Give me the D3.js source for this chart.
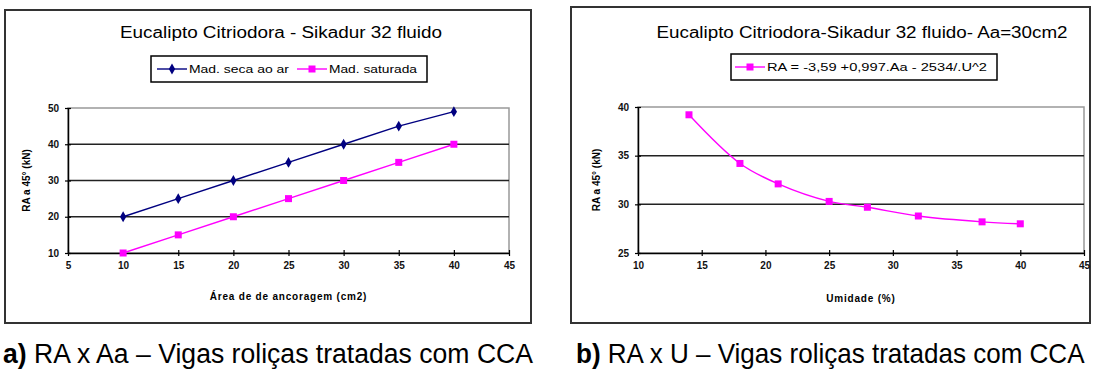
<!DOCTYPE html>
<html>
<head>
<meta charset="utf-8">
<script src="https://cdn.jsdelivr.net/npm/d3@7"></script>
<style>
  body { margin: 0; background: #fff; }
  svg { display: block; font-family: "Liberation Sans", Arial, sans-serif; }
</style>
</head>
<body>
<svg id="chart" width="1093" height="374"></svg>
<script>
// panel a) RA x Aa
const areaAncoragem = [10, 15, 20, 25, 30, 35, 40];
const raSecaAoAr = [20, 25, 30, 35, 40, 45, 49];
const raSaturada = [10, 15, 20, 25, 30, 35, 40];
const xTicksA = [5, 10, 15, 20, 25, 30, 35, 40, 45];
const yTicksA = [10, 20, 30, 40, 50];

// panel b) RA x U
const umidade = [14, 18, 21, 25, 28, 32, 37, 40];
const raUmidade = [39.2, 34.2, 32.1, 30.3, 29.7, 28.8, 28.2, 28.0];
const xTicksB = [10, 15, 20, 25, 30, 35, 40, 45];
const yTicksB = [25, 30, 35, 40];

const titles = ['Eucalipto Citriodora -  Sikadur 32 fluido', 'Eucalipto Citriodora-Sikadur 32 fluido- Aa=30cm2'];
const legendA = ['Mad. seca ao ar', 'Mad. saturada'];
const legendB = ['RA = -3,59 +0,997.Aa - 2534/.U^2'];
const yLabel = 'RA a 45° (kN)';
const xLabels = ['Área de de ancoragem (cm2)', 'Umidade (%)'];
const captions = [
  {tag: 'a)', text: ' RA x Aa – Vigas roliças tratadas com CCA'},
  {tag: 'b)', text: ' RA x U – Vigas roliças tratadas com CCA'}
];

const NAVY = '#000080', MAGENTA = '#ff00ff';
const svg = d3.select('#chart');

function marker(g, type, x, y, color) {
  if (type === 'diamond') {
    g.append('path')
      .attr('d', d3.symbol().type(d3.symbolDiamond).size(34)())
      .attr('transform', `translate(${x},${y})`)
      .attr('fill', color);
  } else {
    g.append('rect')
      .attr('x', x - 3.5).attr('y', y - 3.5)
      .attr('width', 7).attr('height', 7)
      .attr('fill', color);
  }
}

function drawPanel(p) {
  const g = svg.append('g');

  // outer frame
  g.append('rect')
    .attr('x', p.box[0]).attr('y', p.box[1])
    .attr('width', p.box[2] - p.box[0]).attr('height', p.box[3] - p.box[1])
    .attr('fill', '#fff').attr('stroke', '#333').attr('stroke-width', 2);

  const x = d3.scaleLinear().domain(p.xDomain).range([p.plot[0], p.plot[2]]);
  const y = d3.scaleLinear().domain(p.yDomain).range([p.plot[3], p.plot[1]]);

  // plot area border (gray)
  g.append('rect')
    .attr('x', p.plot[0]).attr('y', p.plot[1])
    .attr('width', p.plot[2] - p.plot[0]).attr('height', p.plot[3] - p.plot[1])
    .attr('fill', 'none').attr('stroke', '#999').attr('stroke-width', 1.5);

  // gridlines
  g.append('g').selectAll('line')
    .data(p.yTicks.slice(1, -1))
    .join('line')
    .attr('x1', p.plot[0]).attr('x2', p.plot[2])
    .attr('y1', d => y(d)).attr('y2', d => y(d))
    .attr('stroke', '#222').attr('stroke-width', 1.5);

  // axes
  const xAxis = g.append('g')
    .attr('transform', `translate(0,${p.plot[3]})`)
    .call(d3.axisBottom(x).tickValues(p.xTicks).tickSize(3).tickSizeOuter(0).tickPadding(6));
  xAxis.selectAll('.tick line').attr('y1', -3);
  const yAxis = g.append('g')
    .attr('transform', `translate(${p.plot[0]},0)`)
    .call(d3.axisLeft(y).tickValues(p.yTicks).tickSize(3).tickSizeOuter(0).tickPadding(6));
  yAxis.selectAll('.tick line').attr('x1', 3);
  [xAxis, yAxis].forEach(a => {
    a.select('.domain').attr('stroke', '#000').attr('stroke-width', 1.5);
    a.selectAll('.tick line').attr('stroke', '#000').attr('stroke-width', 1.2);
    a.selectAll('text').attr('font-size', 10).attr('font-weight', 'bold').attr('fill', '#111');
  });

  // title
  g.append('text')
    .attr('x', p.titleX).attr('y', 38)
    .attr('text-anchor', 'middle')
    .attr('font-size', 16)
    .attr('textLength', p.titleLen).attr('lengthAdjust', 'spacingAndGlyphs')
    .text(p.title);

  // axis titles
  g.append('text')
    .attr('transform', `translate(${p.yLabelX},${(p.plot[1] + p.plot[3]) / 2}) rotate(-90)`)
    .attr('text-anchor', 'middle').attr('font-size', 10).attr('font-weight', 'bold')
    .text(yLabel);
  g.append('text')
    .attr('x', (p.plot[0] + p.plot[2]) / 2).attr('y', p.xLabelY)
    .attr('text-anchor', 'middle').attr('font-size', 10).attr('font-weight', 'bold')
    .attr('letter-spacing', 0.8)
    .text(p.xLabel);

  // series
  p.series.forEach(s => {
    const pts = s.xs.map((v, i) => [x(v), y(s.ys[i])]);
    g.append('path')
      .attr('d', d3.line().curve(s.smooth ? d3.curveCatmullRom : d3.curveLinear)(pts))
      .attr('fill', 'none').attr('stroke', s.color).attr('stroke-width', 1.4);
    pts.forEach(pt => marker(g, s.marker, pt[0], pt[1], s.color));
  });

  // legend
  const L = p.legend;
  g.append('rect')
    .attr('x', L.box[0]).attr('y', L.box[1])
    .attr('width', L.box[2] - L.box[0]).attr('height', L.box[3] - L.box[1])
    .attr('fill', '#fff').attr('stroke', '#000').attr('stroke-width', 1.5);
  const ly = (L.box[1] + L.box[3]) / 2;
  L.items.forEach((it, i) => {
    const s = p.series[i];
    g.append('line')
      .attr('x1', it.x).attr('x2', it.x + 30).attr('y1', ly).attr('y2', ly)
      .attr('stroke', s.color).attr('stroke-width', 1.4);
    marker(g, s.marker, it.x + 15, ly, s.color);
    g.append('text')
      .attr('x', it.x + 32).attr('y', ly + 3.5)
      .attr('font-size', 10)
      .attr('textLength', it.len).attr('lengthAdjust', 'spacingAndGlyphs')
      .text(it.label);
  });
}

drawPanel({
  box: [5, 10, 531, 323],
  plot: [68, 108, 509, 253],
  xDomain: [5, 45], yDomain: [10, 50],
  xTicks: xTicksA, yTicks: yTicksA,
  title: titles[0], titleX: 281, titleLen: 322,
  yLabelX: 30, xLabel: xLabels[0], xLabelY: 300,
  series: [
    {xs: areaAncoragem, ys: raSecaAoAr, color: NAVY, marker: 'diamond'},
    {xs: areaAncoragem, ys: raSaturada, color: MAGENTA, marker: 'square'}
  ],
  legend: {
    box: [151, 56, 427, 82],
    items: [
      {x: 157, label: legendA[0], len: 100},
      {x: 297, label: legendA[1], len: 88}
    ]
  }
});

drawPanel({
  box: [571, 7, 1090, 323],
  plot: [638, 107, 1084, 253],
  xDomain: [10, 45], yDomain: [25, 40],
  xTicks: xTicksB, yTicks: yTicksB,
  title: titles[1], titleX: 862, titleLen: 411,
  yLabelX: 600, xLabel: xLabels[1], xLabelY: 302,
  series: [
    {xs: umidade, ys: raUmidade, color: MAGENTA, marker: 'square', smooth: true}
  ],
  legend: {
    box: [731, 54, 997, 80],
    items: [
      {x: 735, label: legendB[0], len: 220}
    ]
  }
});

// captions under the panels
const capX = [3, 576];
const capScale = [0.95, 0.93];
captions.forEach((c, i) => {
  const t = svg.append('text')
    .attr('x', capX[i]).attr('y', 363)
    .attr('font-size', 28)
    .attr('transform', `translate(${capX[i]},0) scale(${capScale[i]},1) translate(${-capX[i]},0)`);
  t.append('tspan').attr('font-weight', 'bold').text(c.tag);
  t.append('tspan').text(c.text);
});
</script>
</body>
</html>
